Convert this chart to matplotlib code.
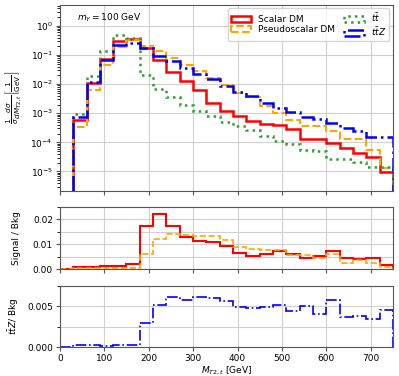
import numpy as np
import matplotlib
matplotlib.use('Agg')
import matplotlib.pyplot as plt
from matplotlib.ticker import AutoMinorLocator

plt.rcParams['font.size'] = 6.5

# binning of M_T2,t in GeV
bin_edges = np.arange(0, 751, 30)
bin_centers = 0.5 * (bin_edges[:-1] + bin_edges[1:])

# normalised distributions
scalar_dist = [0, 5.8e-4, 0.011, 0.075, 0.30, 0.35, 0.18, 0.066, 0.027, 0.013,
               0.0064, 0.0022, 0.0012, 8e-4, 5.5e-4, 4.2e-4, 4.0e-4, 2.9e-4,
               1.26e-4, 1.35e-4, 9.8e-5, 6.3e-5, 4.2e-5, 3.1e-5, 9.5e-6]
pseudo_dist = [0, 3.5e-4, 0.0061, 0.045, 0.19, 0.32, 0.20, 0.135, 0.08, 0.046,
               0.028, 0.016, 0.0095, 0.0048, 0.0037, 0.0018, 0.0010, 5.8e-4,
               3.7e-4, 3.7e-4, 2.5e-4, 1.26e-4, 1.26e-4, 5.5e-5, 1.35e-5]
tt_dist = [0, 9.6e-4, 0.019, 0.135, 0.50, 0.38, 0.021, 0.0069, 0.0036, 0.0020,
           0.0012, 7.8e-4, 5.0e-4, 3.7e-4, 2.7e-4, 1.6e-4, 1.1e-4, 9.1e-5,
           5.4e-5, 5.2e-5, 2.7e-5, 2.7e-5, 2.1e-5, 1.4e-5, 1.4e-5]
ttz_dist = [0, 7.4e-4, 0.012, 0.066, 0.22, 0.27, 0.18, 0.095, 0.063, 0.036,
            0.023, 0.015, 0.0088, 0.0055, 0.0038, 0.0022, 0.0015, 0.0011,
            7.4e-4, 6.5e-4, 4.8e-4, 3.2e-4, 2.5e-4, 1.55e-4, 1.55e-4]

# signal over background
sb_scalar = [0, 0.001, 0.001, 0.0011, 0.0012, 0.0019, 0.0175, 0.0222, 0.0173, 0.013,
             0.0114, 0.011, 0.0093, 0.0066, 0.0054, 0.0062, 0.0071, 0.0061,
             0.0046, 0.0052, 0.0071, 0.0046, 0.0039, 0.0045, 0.0016]
sb_pseudo = [0, 0.0004, 0.0004, 0.0004, 0.0005, 0.0006, 0.006, 0.012, 0.0143, 0.0136,
             0.0132, 0.0132, 0.0117, 0.0088, 0.0082, 0.0075, 0.0078, 0.0057,
             0.0057, 0.0043, 0.0059, 0.0026, 0.0036, 0.0024, 0.0008]

# ttZ over background
ttz_bkg = [0, 0.00027, 0.00025, 0.00022, 0.00024, 0.00035, 0.0030, 0.0052, 0.0061, 0.0057,
           0.0061, 0.006, 0.0056, 0.0049, 0.0048, 0.0049, 0.0051, 0.0044,
           0.0050, 0.0040, 0.0058, 0.0037, 0.0038, 0.0035, 0.0045]


def style_axis(ax):
    ax.grid(True, which='major', color='#d0d0d0', lw=0.8)
    for s in ax.spines.values():
        s.set_color('#555555')
    ax.tick_params(colors='#555555', labelcolor='black', length=3, pad=2)
    ax.set_xlim(0, 750)


fig = plt.figure(figsize=(3.99, 3.76), dpi=100)
gs = fig.add_gridspec(3, 1, height_ratios=[3, 1, 1], hspace=0.16,
                      left=0.150, right=0.985, top=0.987, bottom=0.076)
ax1 = fig.add_subplot(gs[0])
ax2 = fig.add_subplot(gs[1], sharex=ax1)
ax3 = fig.add_subplot(gs[2], sharex=ax1)

ax1.set_yscale('log')
ax1.hist(bin_centers, bins=bin_edges, weights=scalar_dist, histtype='step',
         color='red', lw=1.8, label='Scalar DM')
ax1.hist(bin_centers, bins=bin_edges, weights=pseudo_dist, histtype='step',
         color='orange', ls='--', lw=1.5, label='Pseudoscalar DM')
ax1.hist(bin_centers, bins=bin_edges, weights=tt_dist, histtype='step',
         color='tab:green', ls=':', lw=1.8, label=r'$t\bar{t}$')
ax1.hist(bin_centers, bins=bin_edges, weights=ttz_dist, histtype='step',
         color='blue', ls='-.', lw=1.8, label=r'$t\bar{t}Z$')
ax1.set_ylim(2.2e-6, 5.3)
ax1.set_ylabel(r'$\frac{1}{\sigma}\frac{d\sigma}{dM_{T2,t}}\left[\frac{1}{\mathrm{GeV}}\right]$',
               fontsize=7.5, labelpad=2)
ax1.text(0.05, 0.93, r'$m_Y = 100$ GeV', transform=ax1.transAxes, va='center')
ax1.legend(loc='upper right', ncol=2, fontsize=6.5, handlelength=2.2,
           columnspacing=1.0, borderpad=0.3, labelspacing=0.15,
           borderaxespad=0.4)
style_axis(ax1)
plt.setp(ax1.get_xticklabels(), visible=False)

ax2.hist(bin_centers, bins=bin_edges, weights=sb_scalar, histtype='step',
         color='red', lw=1.5)
ax2.hist(bin_centers, bins=bin_edges, weights=sb_pseudo, histtype='step',
         color='orange', ls='--', lw=1.2)
ax2.set_ylim(0, 0.025)
ax2.set_yticks([0, 0.01, 0.02])
ax2.yaxis.set_minor_locator(AutoMinorLocator(2))
ax2.grid(True, which='minor', axis='y', color='#d0d0d0', lw=0.8)
ax2.set_ylabel('Signal / Bkg')
style_axis(ax2)
plt.setp(ax2.get_xticklabels(), visible=False)

ax3.hist(bin_centers, bins=bin_edges, weights=ttz_bkg, histtype='step',
         color='blue', ls='-.', lw=1.2)
ax3.set_ylim(0, 0.0075)
ax3.set_yticks([0, 0.005])
ax3.yaxis.set_minor_locator(AutoMinorLocator(2))
ax3.grid(True, which='minor', axis='y', color='#d0d0d0', lw=0.8)
ax3.set_ylabel(r'$t\bar{t}Z$/ Bkg')
ax3.set_xlabel(r'$M_{T2,t}$ [GeV]', labelpad=1)
ax3.set_xticks(np.arange(0, 701, 100))
style_axis(ax3)

fig.align_ylabels([ax1, ax2, ax3])
fig.savefig('out.png', dpi=100)
